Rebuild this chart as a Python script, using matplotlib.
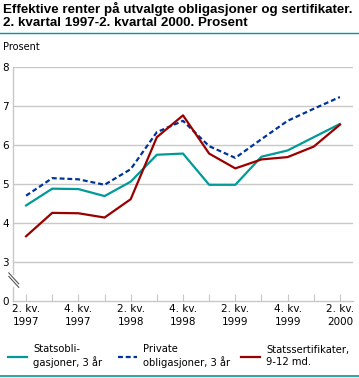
import matplotlib.pyplot as plt
from matplotlib.lines import Line2D

# quarters 2.kv 1997 .. 2.kv 2000
quarters = list(range(13))
tick_labels = ["2. kv.\n1997", "4. kv.\n1997", "2. kv.\n1998", "4. kv.\n1998",
               "2. kv.\n1999", "4. kv.\n1999", "2. kv.\n2000"]

statsobl = [4.45, 4.88, 4.87, 4.69, 5.06, 5.75, 5.78, 4.98, 4.98, 5.70, 5.86, 6.20, 6.54]
private = [4.70, 5.15, 5.12, 4.98, 5.38, 6.33, 6.62, 5.97, 5.67, 6.15, 6.62, 6.93, 7.23]
sertif = [3.66, 4.26, 4.25, 4.14, 4.61, 6.20, 6.76, 5.78, 5.40, 5.63, 5.69, 5.96, 6.52]
names = ["Statsobli-\ngasjoner, 3 år", "Private\nobligasjoner, 3 år", "Statssertifikater,\n9-12 md."]

TEAL = "#009a98"
BLUE = "#003399"
RED = "#990000"
GRID = "#c8c8c8"

W, H = 359, 378
fig = plt.figure(figsize=(W / 100, H / 100), dpi=100)
ax = fig.add_axes([13 / W, 77 / H, 340 / W, 234 / H])

l1, = ax.plot(quarters, statsobl, color=TEAL, lw=1.6, solid_joinstyle="round")
l2, = ax.plot(quarters, private, color=BLUE, lw=1.6, ls=(0, (2.2, 1.3)))
l3, = ax.plot(quarters, sertif, color=RED, lw=1.6, solid_joinstyle="round")

# broken axis: bottom shows 0, upper part 3..8
ax.set_ylim(2, 8)
ax.set_xlim(-0.5, 12.5)
ax.set_yticks([2, 3, 4, 5, 6, 7, 8])
ax.set_yticklabels(["0", "3", "4", "5", "6", "7", "8"])
ax.set_xticks(quarters)
ax.set_xticklabels([tick_labels[i // 2] if i % 2 == 0 else "" for i in quarters])

for y in [3, 4, 5, 6, 7, 8]:
    ax.axhline(y, color=GRID, lw=1, zorder=0)

for s in ["top", "right", "left"]:
    ax.spines[s].set_visible(False)
ax.spines["bottom"].set_color(GRID)
ax.spines["bottom"].set_linewidth(1)
# left axis line with a gap for the break
ax.plot([-0.5, -0.5], [2, 2.35], color=GRID, lw=1, clip_on=False)
ax.plot([-0.5, -0.5], [2.7, 8], color=GRID, lw=1, clip_on=False)
for dy in (0.0, 0.09):
    ax.plot([-0.66, -0.28], [2.63 + dy, 2.35 + dy], color="#555555", lw=0.8, clip_on=False)

ax.tick_params(axis="x", direction="in", length=5, color=GRID, labelsize=7.5, pad=2)
ax.tick_params(axis="y", length=0, labelsize=7.5, pad=3)
for lab in ax.get_xticklabels():
    lab.set_linespacing(1.4)

fig.text(3 / W, 1 - 2 / H,
         "Effektive renter på utvalgte obligasjoner og sertifikater.\n2. kvartal 1997-2. kvartal 2000. Prosent",
         ha="left", va="top", fontsize=9.6, fontweight="bold", family="Liberation Sans", linespacing=1.1)
fig.add_artist(Line2D([0, 1], [1 - 33 / H, 1 - 33 / H], color=TEAL, lw=1))
fig.add_artist(Line2D([0, 1], [1 - 376 / H, 1 - 376 / H], color=TEAL, lw=1.2))
fig.text(3 / W, 1 - 47 / H, "Prosent", ha="left", va="center", fontsize=7)

# one legend entry per series, placed like the reference
for line, name, x0 in zip([l1, l2, l3], names, [8, 118, 241]):
    fig.legend([line], [name], loc="center left", bbox_to_anchor=(x0 / W, 1 - 356 / H),
               frameon=False, fontsize=7.2, handlelength=1.9, handletextpad=0.6,
               borderaxespad=0, borderpad=0)

fig.savefig("out.png", dpi=100)
